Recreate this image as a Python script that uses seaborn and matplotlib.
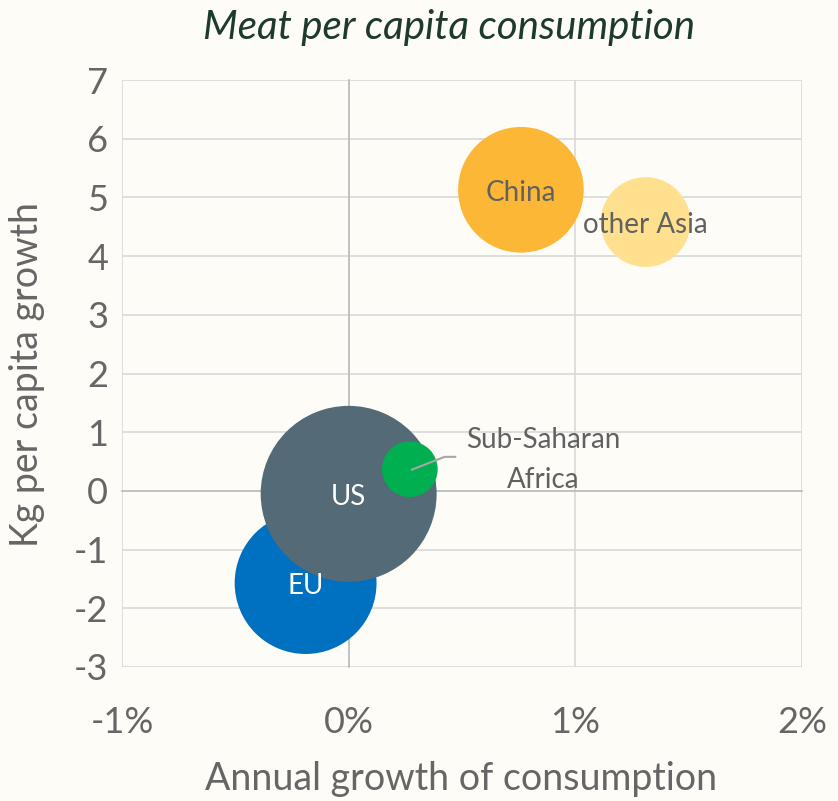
import seaborn as sns
import matplotlib.pyplot as plt
import pandas as pd

regions = ['EU', 'US', 'Sub-Saharan Africa', 'China', 'other Asia']
growth_pct = [-0.19, 0.0, 0.27, 0.76, 1.31]      # annual growth of consumption, %
kg_growth = [-1.57, -0.05, 0.37, 5.13, 4.58]      # kg per capita growth
bubble_size = [65, 100, 10, 51, 26]               # relative bubble size
colors = ['#0070C0', '#546A76', '#00B050', '#FBB735', '#FEE08F']
label_colors = ['white', 'white', '#616161', '#616161', '#616161']

x_ticks = [-1, 0, 1, 2]
y_ticks = [-3, -2, -1, 0, 1, 2, 3, 4, 5, 6, 7]

df = pd.DataFrame({'region': regions, 'growth': growth_pct,
                   'kg': kg_growth, 'size': bubble_size})

bg = '#FEFCF7'
grey = '#666666'
sns.set_style('white')
plt.rcParams['font.family'] = ['Lato', 'DejaVu Sans']

fig = plt.figure(figsize=(8.38, 8.01), dpi=100, facecolor=bg)
ax = fig.add_axes([0.1456, 0.1673, 0.8114, 0.7328])
ax.set_facecolor(bg)

sns.scatterplot(data=df, x='growth', y='kg', hue='region',
                palette=dict(zip(regions, colors)), size='size',
                sizes=(0, 16050), size_norm=(0, 100), legend=False,
                linewidth=0, alpha=1, ax=ax, zorder=3)

ax.set_xlim(-1, 2)
ax.set_ylim(-3, 7)
ax.set_xticks(x_ticks)
ax.set_yticks(y_ticks)
ax.grid(True, color='#D9D9D9', linewidth=1.2)
ax.set_axisbelow(True)

# axis lines crossing at zero, with tick marks
for side in ['top', 'right']:
    ax.spines[side].set_visible(False)
for side in ['left', 'bottom']:
    ax.spines[side].set_position(('data', 0))
    ax.spines[side].set_color('#BFBFBF')
    ax.spines[side].set_linewidth(1.3)
ax.tick_params(direction='out', length=7, width=1.3, color='#BFBFBF',
               labelleft=False, labelbottom=False)
ax.set_xlabel('')
ax.set_ylabel('')

# tick labels at the outer edges
secx = ax.secondary_xaxis(0.0)
secx.set_xticks(x_ticks)
secx.set_xticklabels([f'{t}%' for t in x_ticks])
secx.tick_params(length=0, pad=28, labelsize=26, labelcolor=grey)
secx.spines['bottom'].set_visible(False)

secy = ax.secondary_yaxis(0.0)
secy.set_yticks(y_ticks)
secy.set_yticklabels([str(t) for t in y_ticks])
secy.tick_params(length=0, pad=10, labelsize=26, labelcolor=grey)
secy.spines['left'].set_visible(False)

fig.text(0.550, 0.027, 'Annual growth of consumption', ha='center', va='center',
         fontsize=27, color=grey)
fig.text(0.032, 0.533, 'Kg per capita growth', ha='center', va='center',
         rotation=90, fontsize=27, color=grey)

# bubble labels
for r, x, y, c in zip(regions, growth_pct, kg_growth, label_colors):
    if r == 'Sub-Saharan Africa':
        continue
    ax.text(x, y - 0.05, r, ha='center', va='center', fontsize=20, color=c, zorder=5)

ax.text(0.86, 0.53, 'Sub-Saharan\nAfrica', ha='center', va='center',
        fontsize=20, color='#616161', linespacing=1.65, zorder=5)
ax.plot([0.278, 0.423, 0.471], [0.36, 0.58, 0.58], color='#A6A6A6', lw=1.5, zorder=4)

fig.text(0.536, 0.966, 'Meat per capita consumption', ha='center', va='center',
         fontsize=29, style='italic', color='#1E3A2F')

fig.savefig('out.png', dpi=100, facecolor=bg)
